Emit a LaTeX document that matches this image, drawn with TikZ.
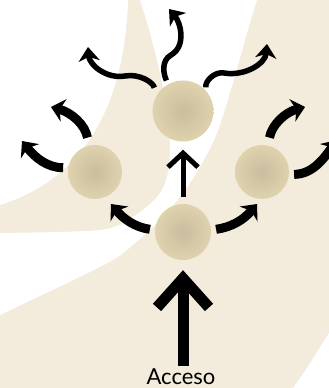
\documentclass[tikz,border=0pt]{standalone}
\usepackage{fontspec}
\setsansfont{Lato}
\usetikzlibrary{arrows.meta}
\definecolor{sand}{HTML}{F3EBDB}
\definecolor{discmid}{HTML}{C8BD9F}
\definecolor{discrim}{HTML}{E4D6B0}
\definecolor{discedge}{HTML}{DCCCA2}
\pgfdeclareradialshading{disc}{\pgfpoint{0bp}{0bp}}{color(0bp)=(discmid); color(30bp)=(discrim); color(45bp)=(discrim); color(50bp)=(discedge)}

\begin{document}
\begin{tikzpicture}[
    x=1pt,y=1pt,
    stopdisc/.style={circle,shade,shading=disc,minimum size=#1,inner sep=0pt},
    curlarrow/.style={line width=9pt,-{Stealth[length=13pt,width=23pt,inset=4pt]}},
    wavearrow/.style={line width=5.5pt,-{Stealth[length=14pt,width=21pt,inset=4pt]}},
    midarrow/.style={line width=5pt,-{Straight Barb[length=14pt,width=30pt]}},
    entryarrow/.style={line width=11pt,-{Straight Barb[length=29pt,width=52pt]}},
    caption/.style={font=\sffamily\fontsize{22}{24}\selectfont,inner sep=0pt}]
  \useasboundingbox (0,0) rectangle (329,388);
  \fill[sand] (0,0) rectangle (329,388);
  \fill[white] (0,388) -- (128,388) .. controls (125,298) and (95,213) .. (0,183) -- cycle;
  \fill[white] plot[smooth] coordinates {(257,388) (247,355) (233,305) (217,255) (200,221) (183,195) (160,168) (127,138) (100,121) (0,73)}
    -- plot[smooth] coordinates {(0,155) (100,158) (133,171) (157,191) (167,211) (170,245) (162,305) (150,355) (140,388)} -- cycle;
  \fill[white] (329,55) .. controls (315,33) and (305,16) .. (293,0) -- (329,0) -- cycle;

  \node[stopdisc=61pt] (top) at (183,277) {};
  \node[stopdisc=54pt] (lft) at (95,216) {};
  \node[stopdisc=54pt] (rgt) at (262,216) {};
  \node[stopdisc=56pt] (bot) at (183,156) {};
  \node[caption,anchor=base] (acc) at (181,4) {Acceso};

  \coordinate (tipA) at (169,379);
  \coordinate (tipB) at (88,341);
  \coordinate (tipC) at (267,344);
  \coordinate (tipD) at (51,281);
  \coordinate (tipE) at (22,247);
  \coordinate (tipF) at (111,184);
  \coordinate (tipG) at (257,184);
  \coordinate (tipH) at (305,281);
  \coordinate (tipI) at (337,248);

  \draw[wavearrow,shorten <=4pt] (top.119) to[out=115,in=210] (171,333) to[out=30,in=-50] (tipA);
  \draw[wavearrow,shorten <=9pt] (top.152) to[out=100,in=10] (125,312) to[out=190,in=-85] (tipB);
  \draw[wavearrow,shorten <=4pt] (top.40) to[out=100,in=170] (224,315) to[out=-10,in=-95] (tipC);

  \draw[curlarrow,shorten <=8pt] (lft.103) to[out=100,in=-15] (tipD);
  \draw[curlarrow,shorten <=5pt] (lft.171) to[out=180,in=-52] (tipE);
  \draw[curlarrow,shorten <=5pt] (bot.176) to[out=172,in=-50] (tipF);
  \draw[curlarrow,shorten <=5pt] (bot.4) to[out=8,in=-130] (tipG);
  \draw[curlarrow,shorten <=8pt] (rgt.77) to[out=80,in=195] (tipH);
  \draw[curlarrow,shorten <=5pt] (rgt.-5) to[out=0,in=-125] (tipI);

  \draw[midarrow,shorten <=7pt,shorten >=8pt] (bot) -- (top);
  \draw[entryarrow,shorten <=2pt,shorten >=10pt] (acc.north -| bot) -- (bot);
\end{tikzpicture}
\end{document}
